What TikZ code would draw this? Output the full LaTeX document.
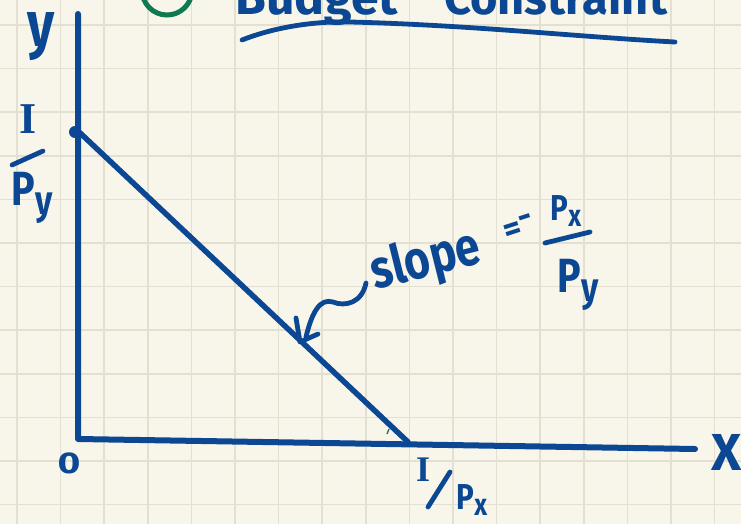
\documentclass[tikz,border=0pt]{standalone}
\usepackage{fontspec}
\setmainfont{Fira Sans}
\newfontfamily\serifI{Liberation Serif}
\usepackage{graphicx}
\definecolor{ink}{HTML}{0B4792}
\definecolor{paper}{HTML}{F8F6EA}
\definecolor{gridc}{HTML}{E3E0D2}
\definecolor{greenink}{HTML}{0E7A50}
\newcommand\lowsub[1]{\raisebox{-0.35ex}{\scalebox{0.85}{#1}}}
\newcommand\narrow[1]{\scalebox{0.82}[1]{#1}}
\begin{document}
\begin{tikzpicture}[x=1pt,y=-1pt,
  inkline/.style={draw=ink, line width=5.5pt, line cap=round, line join=round},
  thinink/.style={draw=ink, line width=4.8pt, line cap=round, line join=round},
  gridline/.style={draw=gridc, line width=1.6pt},
  lbl/.style={text=ink, font=\bfseries\fontsize{#1}{#1}\selectfont, inner sep=0pt}]
\useasboundingbox (0,0) rectangle (741,524);
\clip (0,0) rectangle (741,524);
\fill[paper] (0,0) rectangle (741,524);
% grid
\foreach \i in {0,...,16} \draw[gridline] ({17+43.6*\i},0) -- ++(0,524);
\foreach \j in {0,...,11} \draw[gridline] (0,{25+43.6*\j}) -- ++(741,0);

% title
\draw[draw=greenink, line width=5pt, line cap=round] (167,-10) ++(170:25) arc (170:15:25);
\node[lbl=50, anchor=base west] (t1) at (235,15) {Budget};
\node[lbl=47, anchor=base west] (t2) at (444,15) {Constraint};
\coordinate (u1) at (242,40);
\coordinate (u2) at (350,22);
\coordinate (u3) at (675,42);
\draw[thinink] (u1) .. controls (275,27) and (315,21) .. (u2) .. controls (470,25) and (580,37) .. (u3);

% axes
\coordinate (ytop) at (78,14);
\coordinate (O) at (78,439);
\coordinate (xend) at (695,449);
\draw[inkline, line width=6pt] (ytop) -- (O) -- (xend);

% budget line
\coordinate (A) at (78,131);
\coordinate (B) at (408,442);
\draw[inkline] (A) -- (B);
\fill[ink] (75,132) circle (6);
\draw[draw=greenink, line width=1.3pt] (389,429) -- (387,434);

% axis labels
\node[lbl=64] (ylab) at (41,37) {\narrow{y}};
\node[lbl=44] (Iy) at (28,119) {\serifI I};
\draw[thinink] (12,165) -- (43,151);
\node[lbl=48] (Py) at (32,198) {\narrow{P\lowsub{y}}};
\node[lbl=30] (zero) at (69,463) {\scalebox{1.3}[1]{0}};
\node[lbl=52] (xlab) at (727,452) {X};
\node[lbl=36] (Ix) at (423,470) {\serifI I};
\draw[thinink] (450,472) -- (428,507);
\node[lbl=36] (Px) at (472,500) {\narrow{P\lowsub{x}}};

% slope annotation
\node[lbl=54, rotate=14] (slope) at (426,262) {\narrow{slope}};
\node[lbl=34, rotate=18] (eq) at (519,228) {=\raisebox{0.45ex}{-}};
\node[lbl=36] (Pxn) at (566,211) {\narrow{P\lowsub{x}}};
\draw[thinink] (545,243) -- (590,232);
\node[lbl=48] (Pyd) at (578,285) {\narrow{P\lowsub{y}}};

\coordinate (sq) at (366,283);
\coordinate (T) at (300,342);
\draw[thinink] (sq) .. controls (362,303) and (345,307) .. (333,302)
   .. controls (320,298) and (312,312) .. (306,337);
\draw[thinink] (296,318) -- (T) -- (318,334);
\end{tikzpicture}
\end{document}
